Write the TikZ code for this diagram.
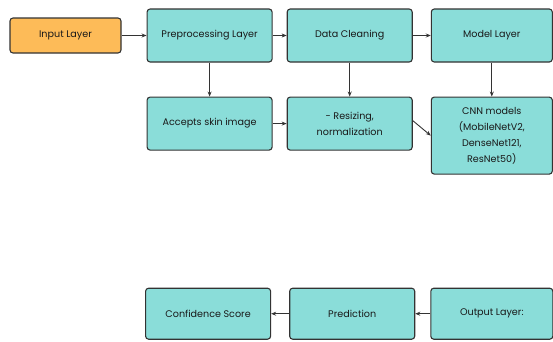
\documentclass[tikz,border=0pt]{standalone}
\usepackage{fontspec}
\setmainfont{Poppins}
\usepackage{xcolor}
\usepackage{tikz}
\usetikzlibrary{arrows.meta}
\usetikzlibrary{positioning}

\definecolor{boxteal}{HTML}{8ADDD9}
\definecolor{boxorange}{HTML}{FDBB58}
\definecolor{boxline}{HTML}{333333}

\begin{document}
\begin{tikzpicture}[
  every node/.style={rectangle, rounded corners=3pt, draw=boxline, line width=1.1pt,
    fill=boxteal, text=black!90, font=\fontsize{9.6}{16}\selectfont,
    minimum width=125pt, minimum height=53pt, align=center, inner sep=2pt},
  every path/.style={->, line width=0.9pt, color=black!80},
]
\tikzset{>={Stealth[length=5pt, width=4pt]}}
\useasboundingbox (0,0) rectangle (553pt,-341pt);

%% Row 1
\node (input) [fill=boxorange, minimum width=111pt, minimum height=35pt]
      at (65.5pt,-35.5pt) {Input Layer};
\node (prep)  [right=25pt of input]                 {Preprocessing Layer};
\node (clean) [right=14pt of prep]                  {Data Cleaning};
\node (model) [right=18pt of clean, minimum width=121pt] {Model Layer};

%% Row 2
\node (skin)  [below=34pt of prep]                  {Accepts skin image};
\node (resize)[below=34pt of clean]                 {- Resizing,\\normalization};
\node (cnn)   [below=34pt of model, minimum width=121pt, minimum height=77pt]
      {CNN models\\(MobileNetV2,\\DenseNet121,\\ResNet50)};

%% Row 3
\node (output)[below=113pt of cnn, minimum width=122pt, minimum height=51pt] {Output Layer:};
\node (pred)  [left=15pt of output, minimum height=51pt]  {Prediction};
\node (conf)  [left=18pt of pred, minimum height=51pt]    {Confidence Score};

\coordinate (rs) at ([yshift=3pt]resize.east);

\draw (input) to (prep);
\draw (prep)  to (clean);
\draw (clean) to (model);
\draw (prep)  to (skin);
\draw (clean) to (resize);
\draw (model) to (cnn);
\draw (skin)  to (resize);
\draw (rs)    to (cnn.west);
\draw (output) to (pred);
\draw (pred)  to (conf);

\end{tikzpicture}
\end{document}
